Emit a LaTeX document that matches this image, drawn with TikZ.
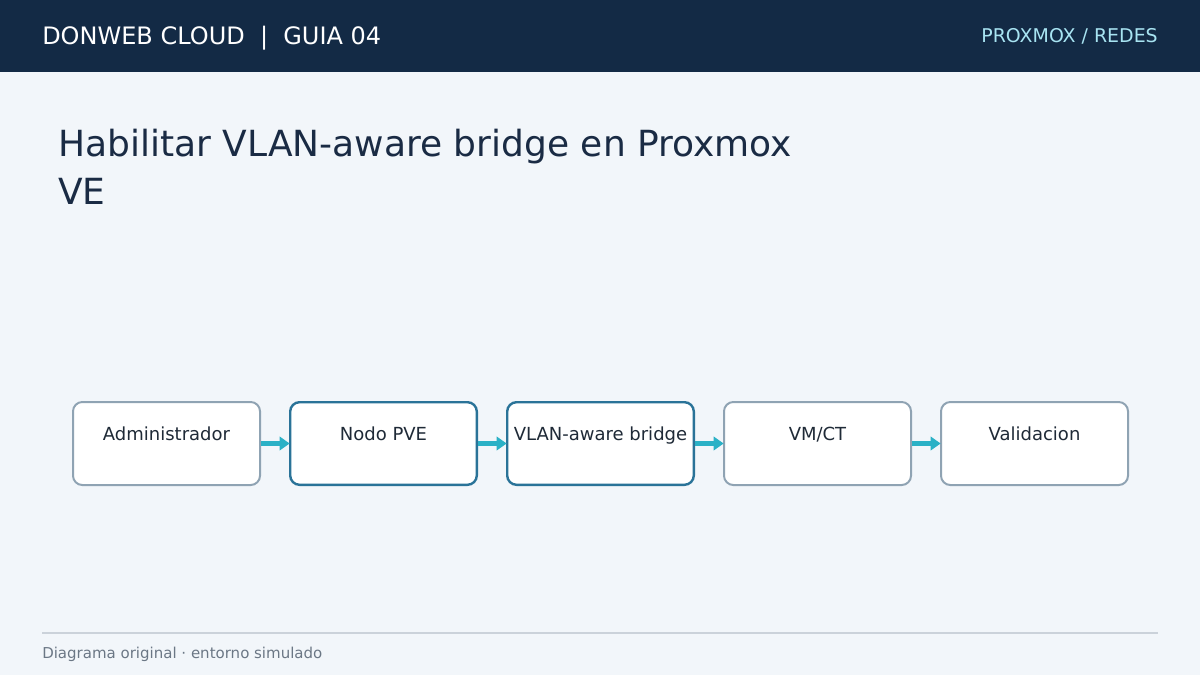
\documentclass[tikz,border=0pt]{standalone}
\usepackage{fontspec}
\setmainfont{DejaVu Sans}
\usetikzlibrary{positioning,arrows.meta}

\definecolor{headbg}{HTML}{132A45}
\definecolor{pagebg}{HTML}{F2F6FA}
\definecolor{titlecol}{HTML}{1A2B44}
\definecolor{tagcol}{HTML}{A8E4F2}
\definecolor{grayedge}{HTML}{8FA3B3}
\definecolor{blueedge}{HTML}{2A7398}
\definecolor{flowcol}{HTML}{2BB1C6}
\definecolor{boxtext}{HTML}{1F2A37}
\definecolor{footcol}{HTML}{6B7785}
\definecolor{rulecol}{HTML}{CBD2DA}

\begin{document}
\begin{tikzpicture}[
      x=0.75pt, y=-0.75pt,
      node distance=21pt,
      stage/.style={draw=grayedge, line width=1.5pt, fill=white, rounded corners=7pt,
        minimum width=140.25pt, inner sep=0pt, text height=28.5pt, text depth=33.75pt,
        text=boxtext, font=\fontsize{13.5}{16}\selectfont},
      keystage/.style={stage, draw=blueedge, line width=1.8pt, minimum width=139.95pt,
        text height=28.35pt, text depth=33.6pt},
      flow/.style={flowcol, line width=3.5pt, -{Triangle[length=7.5pt,width=10pt]}, shorten >=-0.5pt}
    ]

% Background and header
      \fill[pagebg] (0,0) rectangle (1200,675);
      \fill[headbg] (0,0) rectangle (1200,72);
      \useasboundingbox (0,0) rectangle (1200,675);
      \node[anchor=base west, text=white, inner sep=0pt, font=\fontsize{18}{22}\selectfont]
        (brand) at (42,44) {DONWEB CLOUD\ \ |\ \ GUIA 04};
      \node[anchor=base east, text=tagcol, inner sep=0pt, font=\fontsize{14.2}{17}\selectfont]
        (tag) at (1158,42) {PROXMOX / REDES};

% Title
      \node[anchor=base west, text=titlecol, inner sep=0pt, align=left,
        font=\fontsize{27}{36}\selectfont] (title) at (58,204)
        {Habilitar VLAN-aware bridge en Proxmox\\VE};

% Nodes
      \node[stage, anchor=north west] (admin) at (72,401) {Administrador};
      \node[keystage, right=of admin] (pve) {Nodo PVE};
      \node[keystage, right=of pve] (bridge) {VLAN-aware bridge};
      \node[stage, right=of bridge] (vmct) {VM/CT};
      \node[stage, right=of vmct] (valid) {Validacion};

% Connections
      \draw[flow] (admin) -- (pve);
      \draw[flow] (pve) -- (bridge);
      \draw[flow] (bridge) -- (vmct);
      \draw[flow] (vmct) -- (valid);

% Footer
      \draw[rulecol, line width=1.2pt] (42,633) -- (1158,633);
      \node[anchor=base west, text=footcol, inner sep=0pt, font=\fontsize{11.25}{14}\selectfont]
        (foot) at (42,658) {Diagrama original · entorno simulado};

    \end{tikzpicture}
\end{document}
